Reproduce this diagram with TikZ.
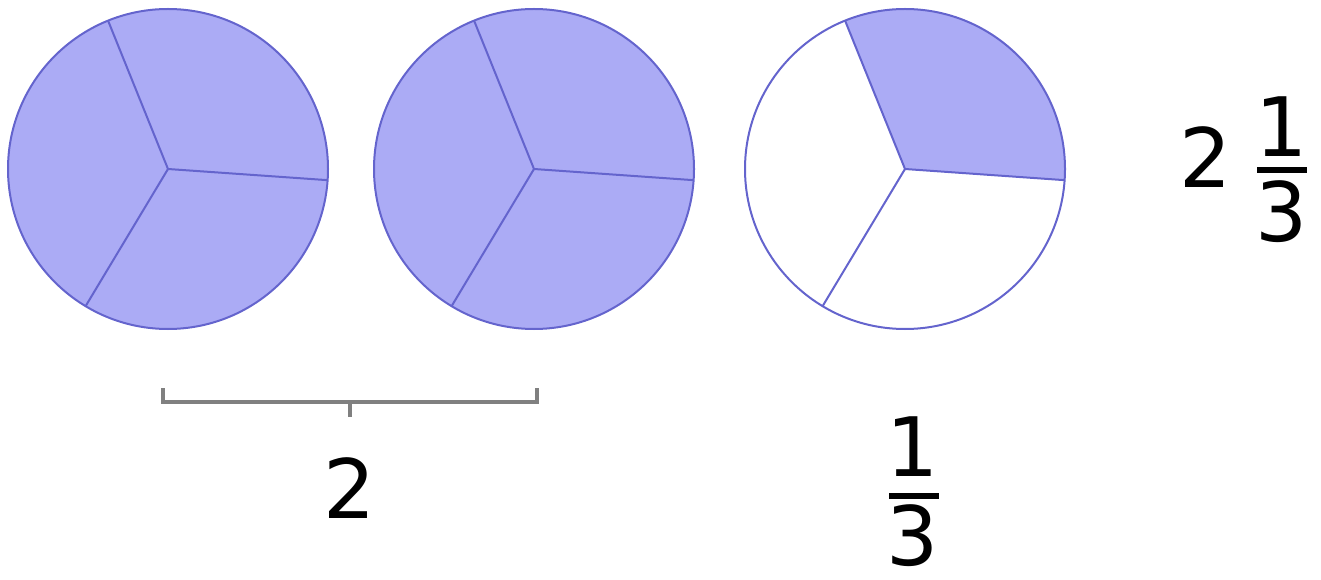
\documentclass[tikz,border=0pt]{standalone}
\usepackage{fontspec}
\setmainfont{DejaVu Sans}
\usetikzlibrary{backgrounds,calc}
\definecolor{piefill}{RGB}{171,171,245}
\definecolor{pieline}{RGB}{100,100,205}
\definecolor{bracketgray}{RGB}{128,128,128}
\begin{document}
\begin{tikzpicture}[x=1pt,y=1pt,
  pie/.style={circle, draw=pieline, line width=2pt, minimum size=320pt, inner sep=0pt, outer sep=0pt},
  spoke/.style={draw=pieline, line width=2pt},
  num/.style={font=\fontsize{82}{98}\selectfont, inner sep=0pt, anchor=base},
  fracbar/.style={line width=5.5pt, black},
  bracketline/.style={draw=bracketgray, line width=4pt}
]
\useasboundingbox (0,0) rectangle (1321,579);
% circles
\node[pie, fill=piefill] (c1) at (168,410) {};
\node[pie, fill=piefill] (c2) at (534,410) {};
\node[pie] (c3) at (905,410) {};
\begin{scope}[on background layer]
  \fill[piefill] (c3.center) -- (c3.-4) arc[start angle=-4, end angle=112, radius=160pt] -- cycle;
\end{scope}
\foreach \c in {c1,c2,c3}{
  \draw[spoke] (\c.center) -- (\c.112);
  \draw[spoke] (\c.center) -- (\c.-4);
  \draw[spoke] (\c.center) -- (\c.239);
}
% bracket
\coordinate (bl) at (163,177);
\coordinate (br) at (537,177);
\draw[bracketline] ($(bl)+(0,14)$) -- (bl) -- (br) -- ($(br)+(0,14)$);
\coordinate (bm) at ($(bl)!0.5!(br)$);
\draw[bracketline] (bm) -- ($(bm)+(0,-15)$);
\node[num] (two) at (350,61) {2};
% 1/3
\node[num] (n1) at (913,103) {1};
\node[num] (d1) at (913,14) {3};
\coordinate (f1l) at (889,83);
\coordinate (f1r) at (939,83);
\draw[fracbar] (f1l) -- (f1r);
% 2 1/3
\node[num] (mtwo) at (1206,391) {2};
\node[num] (n2) at (1282,422) {1};
\node[num] (d2) at (1282,337) {3};
\coordinate (f2l) at (1257,409);
\coordinate (f2r) at (1307,409);
\draw[fracbar] (f2l) -- (f2r);
\end{tikzpicture}
\end{document}
